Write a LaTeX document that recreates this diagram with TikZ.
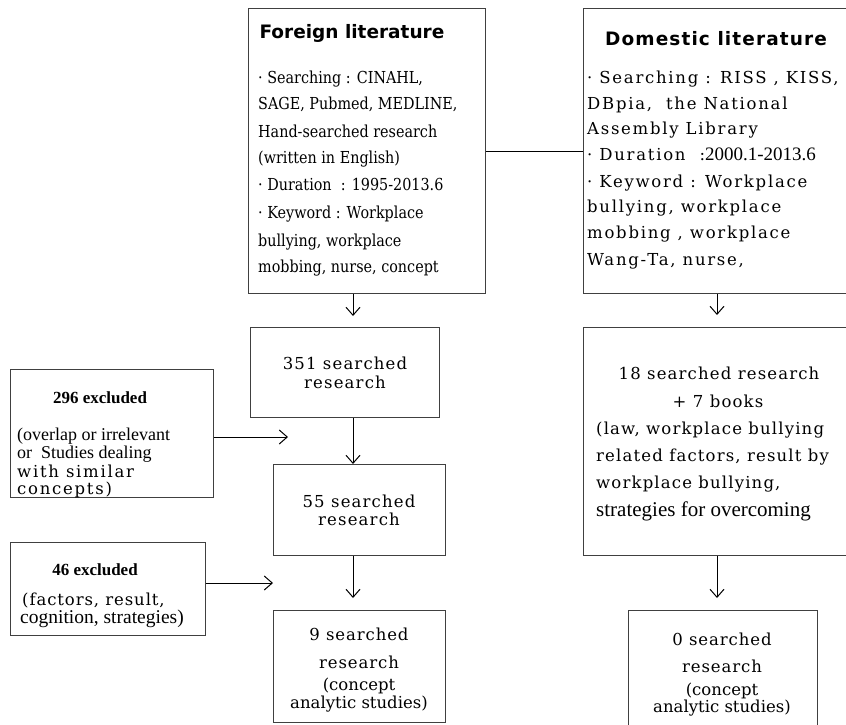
\documentclass[tikz,border=0pt]{standalone}
\usepackage{fontspec}
\setmainfont{DejaVu Serif}
\newfontfamily\fserif[FakeStretch=0.87]{DejaVu Serif}
\newfontfamily\dserif[LetterSpace=10.5]{DejaVu Serif}
\newfontfamily\wserif[LetterSpace=7]{DejaVu Serif}
\newfontfamily\vserif[LetterSpace=5.5]{DejaVu Serif}
\newfontfamily\headfont{DejaVu Sans}
\newfontfamily\dheadfont[LetterSpace=6]{DejaVu Sans}
\newfontfamily\timesfont{Liberation Serif}
\usetikzlibrary{arrows.meta}
\begin{document}
\begin{tikzpicture}[x=1pt,y=-1pt,
  box/.style={draw=black!75, line width=1pt, anchor=north west, inner sep=0pt},
  arr/.style={draw=black, line width=1pt, -{Straight Barb[length=8pt,width=14pt,line width=1pt]}},
  ln/.style={draw=black, line width=1pt},
  head/.style={inner sep=0pt, font=\headfont\bfseries\fontsize{18.5}{18.5}\selectfont},
  dhead/.style={inner sep=0pt, font=\dheadfont\bfseries\fontsize{18.5}{18.5}\selectfont},
  tx/.style={inner sep=0pt, text height=11pt, text depth=1pt},
  fl/.style={tx, anchor=west, font=\fserif\fontsize{16.5}{16.5}\selectfont},
  dl/.style={tx, anchor=west, font=\dserif\fontsize{16.5}{16.5}\selectfont},
  wl/.style={tx, anchor=west, font=\wserif\fontsize{16.5}{16.5}\selectfont},
  wc/.style={tx, font=\wserif\fontsize{16.5}{16.5}\selectfont},
  vc/.style={tx, font=\vserif\fontsize{16.5}{16.5}\selectfont},
  vl/.style={tx, anchor=west, font=\vserif\fontsize{16.5}{16.5}\selectfont},
  pc/.style={tx, font=\fontsize{16.5}{16.5}\selectfont},
  tml/.style={tx, anchor=west, font=\timesfont\fontsize{18}{18}\selectfont},
  tmb/.style={tx, font=\timesfont\bfseries\fontsize{17}{17}\selectfont}
]
\useasboundingbox (0,0) rectangle (846,725);
% boxes
\node[box, minimum width=237pt, minimum height=285pt] (foreign) at (248,8) {};
\node[box, minimum width=270pt, minimum height=285pt] (domestic) at (583,8) {};
\node[box, minimum width=189pt, minimum height=90pt] (b351) at (250,327) {};
\node[box, minimum width=172pt, minimum height=91pt] (b55) at (273,464) {};
\node[box, minimum width=172pt, minimum height=112pt] (b9) at (273,610) {};
\node[box, minimum width=203pt, minimum height=128pt] (b296) at (10,369) {};
\node[box, minimum width=195pt, minimum height=93pt] (b46) at (10,542) {};
\node[box, minimum width=270pt, minimum height=228pt] (b18) at (583,327) {};
\node[box, minimum width=189pt, minimum height=130pt] (b0) at (628,610) {};
% foreign text
\node[head] (ft) at (352,33) {Foreign literature};
\node[fl] (f1) at (258,78) {· Searching : CINAHL,};
\node[fl] (f2) at (258,105) {SAGE, Pubmed, MEDLINE,};
\node[fl] (f3) at (258,132) {Hand-searched research};
\node[fl] (f4) at (258,158) {(written in English)};
\node[fl] (f5) at (258,185) {· Duration\ \ : 1995-2013.6};
\node[fl] (f6) at (258,213) {· Keyword : Workplace};
\node[fl] (f7) at (258,241) {bullying, workplace};
\node[fl] (f8) at (258,267) {mobbing, nurse, concept};
% domestic text
\node[dhead] (dt) at (716,39) {Domestic literature};
\node[dl] (d1) at (587,79) {· Searching : RISS , KISS,};
\node[dl] (d2) at (587,104) {DBpia,\ \ the National};
\node[dl] (d3) at (587,129) {Assembly Library};
\node[dl] (d4) at (587,155) {· Duration\ \ :{\timesfont\fontsize{19}{19}\selectfont 2000.1-2013.6}};
\node[dl] (d5) at (587,182) {· Keyword : Workplace};
\node[dl] (d6) at (587,207) {bullying, workplace};
\node[dl] (d7) at (587,233) {mobbing , workplace};
\node[dl] (d8) at (587,260) {Wang-Ta, nurse,};
% 351
\node[wc] (t351a) at (345,364) {351 searched};
\node[wc] (t351b) at (345,383) {research};
% 55
\node[wc] (t55a) at (359,502) {55 searched};
\node[wc] (t55b) at (359,520) {research};
% 9
\node[vc] (t9a) at (359,635) {9 searched};
\node[vc] (t9b) at (359,663) {research};
\node[pc] (t9c) at (359,685) {(concept};
\node[pc] (t9d) at (359,703) {analytic studies)};
% 0
\node[vc] (t0a) at (722,640) {0 searched};
\node[vc] (t0b) at (722,667) {research};
\node[pc] (t0c) at (722,690) {(concept};
\node[pc] (t0d) at (722,707) {analytic studies)};
% 18
\node[wc] (t18a) at (719,374) {18 searched research};
\node[wc] (t18b) at (718,402) {+ 7 books};
\node[wl] (t18c) at (596,429) {(law, workplace bullying};
\node[wl] (t18d) at (596,456) {related factors, result by};
\node[wl] (t18e) at (596,483) {workplace bullying,};
\node[tml, font=\timesfont\fontsize{21}{21}\selectfont] (t18f) at (596,511) {strategies for overcoming};
% 296
\node[tmb] (t296a) at (100,398) {296 excluded};
\node[tml] (t296b) at (17,435) {(overlap or irrelevant};
\node[tml] (t296c) at (17,453) {or\ \ Studies dealing};
\node[dl] (t296d) at (17,472) {with similar};
\node[dl] (t296e) at (17,489) {concepts)};
% 46
\node[tmb] (t46a) at (95,570) {46 excluded};
\node[vl] (t46b) at (22,600) {(factors, result,};
\node[tml, font=\timesfont\fontsize{19.5}{19.5}\selectfont] (t46c) at (20,618) {cognition, strategies)};
% connectors
\coordinate (cL) at (353,0);
\coordinate (cR) at (717,0);
\coordinate (e1) at (288,437);
\coordinate (e2) at (273,583);
\draw[ln] (foreign.east) -- (domestic.west);
\draw[arr, shorten >=11pt] (cL |- foreign.south) -- (cL |- b351.north);
\draw[arr] (cL |- b351.south) -- (cL |- b55.north);
\draw[arr, shorten >=12pt] (cL |- b55.south) -- (cL |- b9.north);
\draw[arr, shorten >=12pt] (cR |- domestic.south) -- (cR |- b18.north);
\draw[arr, shorten >=12pt] (cR |- b18.south) -- (cR |- b0.north);
\draw[arr] (b296.east |- e1) -- (e1);
\draw[arr] (b46.east |- e2) -- (e2);
\end{tikzpicture}
\end{document}
